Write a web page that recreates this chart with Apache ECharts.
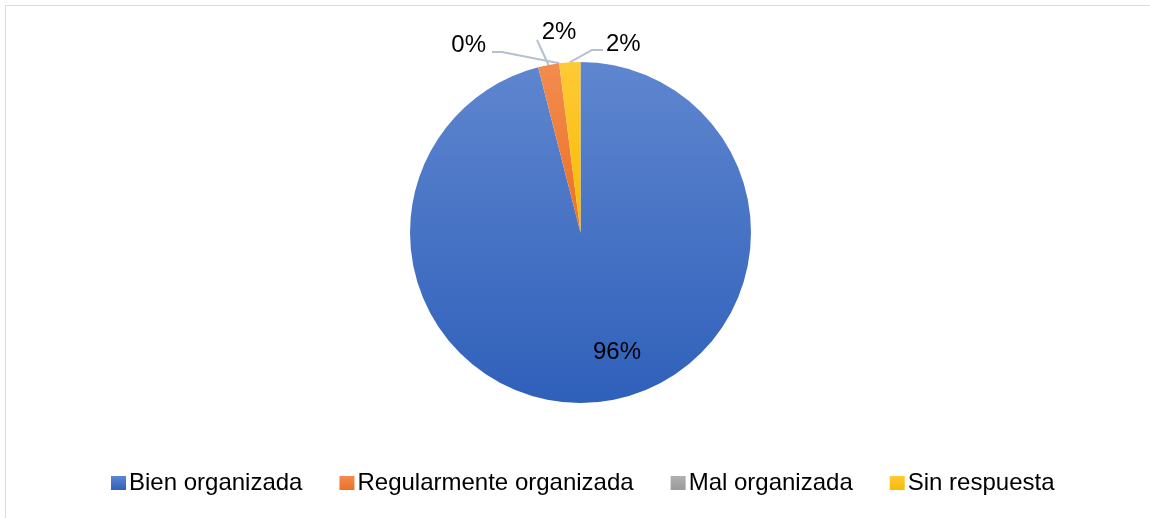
<!DOCTYPE html>
<html>
<head>
<meta charset="utf-8">
<script src="https://cdn.jsdelivr.net/npm/echarts@6/dist/echarts.min.js"></script>
<style>
  html, body { margin: 0; padding: 0; background: #fff; }
  #frame { position: absolute; left: 5px; top: 5px; width: 1160px; height: 530px; border: 1px solid #d6dce5; box-sizing: border-box; }
  #chart { position: absolute; left: 0; top: 0; width: 1150px; height: 518px; }
</style>
</head>
<body>
<div id="frame"></div>
<div id="chart"></div>
<script>
var categories = ['Bien organizada', 'Regularmente organizada', 'Mal organizada', 'Sin respuesta'];
var values = [96, 2, 0, 2];
var colorsTop = ['#5f86cf', '#f28c4f', '#b0b0b0', '#ffc936'];
var colorsBottom = ['#2f60ba', '#ec7024', '#9a9a9a', '#f7bb00'];

(function () {
    var myChart = echarts.init(document.getElementById('chart'));

    var data = [];
    for (var i = 0; i < categories.length; i++) {
        data.push({
            name: categories[i],
            value: values[i],
            itemStyle: {
                color: new echarts.graphic.LinearGradient(0, 0, 0, 1, [
                    { offset: 0, color: colorsTop[i] },
                    { offset: 1, color: colorsBottom[i] }
                ])
            }
        });
    }

    // label spots (Excel-like placement)
    var labelSpots = [
        { x: 617, y: 352, align: 'center' },
        { x: 559, y: 32, align: 'center', mid: [537, 40], end: [537, 40] },
        { x: 486, y: 45, align: 'right', mid: [502, 52], end: [492, 52] },
        { x: 606, y: 44, align: 'left', mid: [592, 50], end: [603, 50] }
    ];

    var option = {
        animation: false,
        legend: {
            data: categories,
            top: 466,
            left: 106,
            icon: 'rect',
            itemWidth: 15,
            itemHeight: 14,
            itemGap: 37,
            textStyle: {
                color: '#000',
                fontSize: 24,
                fontFamily: 'Liberation Sans, Arial, sans-serif',
                padding: [0, 0, 0, -2]
            }
        },
        series: [
            {
                type: 'pie',
                center: [580.5, 232.5],
                radius: 170.5,
                startAngle: 90,
                clockwise: true,
                data: data,
                label: {
                    show: true,
                    position: 'outside',
                    formatter: '{d}%',
                    color: '#000',
                    fontSize: 24,
                    fontFamily: 'Liberation Sans, Arial, sans-serif'
                },
                labelLine: {
                    show: true,
                    length: 10,
                    length2: 10,
                    lineStyle: { color: '#b4c1d2', width: 2 }
                },
                labelLayout: function (params) {
                    var s = labelSpots[params.dataIndex];
                    var res = { x: s.x, y: s.y, align: s.align, verticalAlign: 'middle' };
                    if (params.dataIndex > 0 && params.labelLinePoints) {
                        var p0 = params.labelLinePoints[0];
                        res.labelLinePoints = [p0, s.mid, s.end];
                    }
                    return res;
                },
                emphasis: { disabled: true }
            }
        ]
    };
    // 96% sits inside the slice, no leader line
    option.series[0].data[0].labelLine = { show: false };
    myChart.setOption(option);
})();
</script>
</body>
</html>
